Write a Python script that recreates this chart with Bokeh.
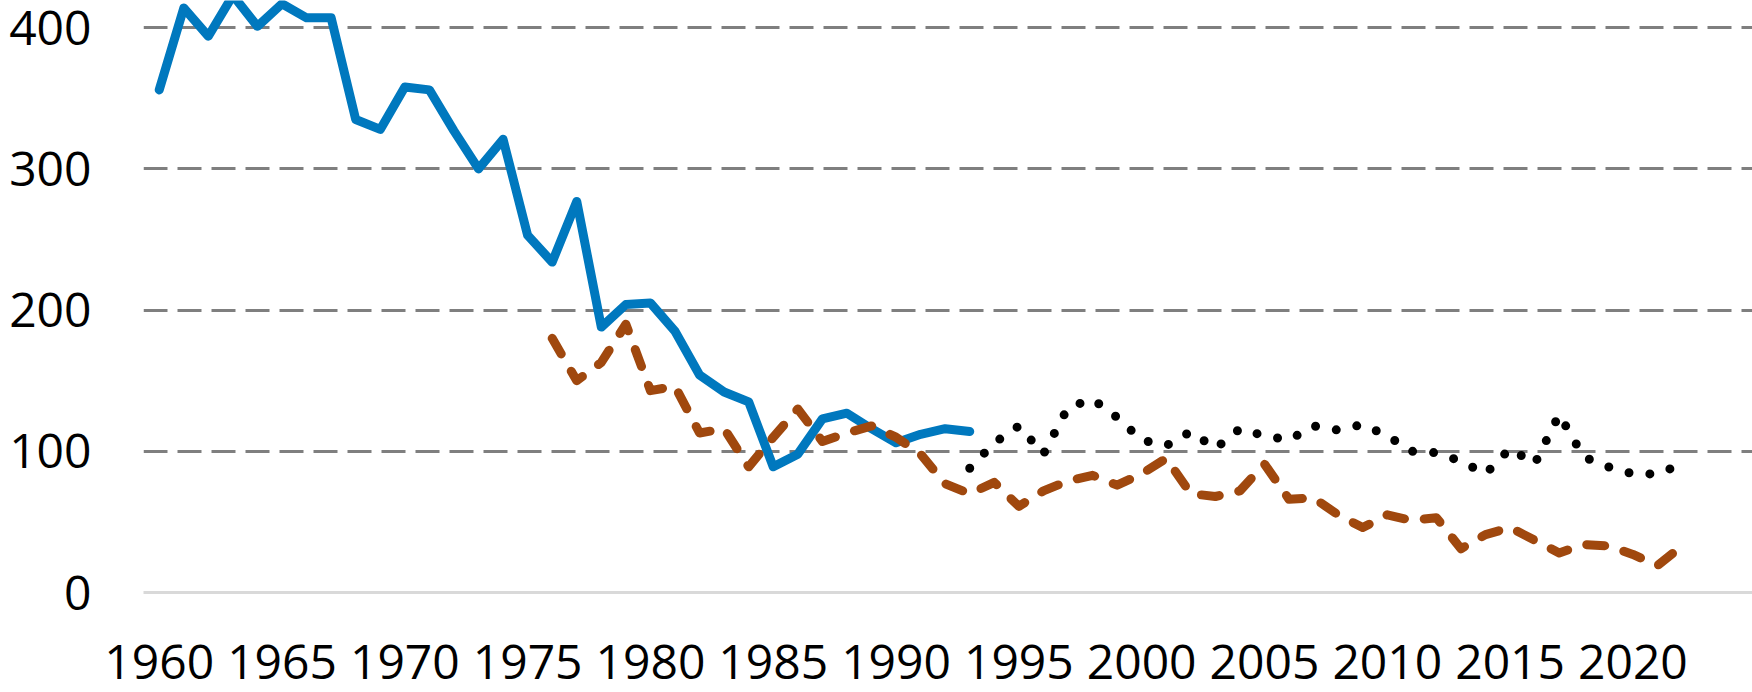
from bokeh.plotting import figure
from bokeh.models import Range1d, FixedTicker
from bokeh.embed import file_html
from bokeh.resources import INLINE

# ---- data ----
blue_years = list(range(1960, 1994))
blue_vals = [356, 414, 394, 423, 401, 417, 407, 407, 335, 328,
             358, 356, 327, 300, 321, 253, 234, 277, 188, 204,
             205, 185, 154, 142, 135, 89, 98, 123, 127, 116,
             106, 112, 116, 114]

brown_years = list(range(1976, 2023))
brown_vals = [180, 150, 163, 190, 143, 146, 113, 116, 89, 110,
              130, 107, 113, 118, 110, 98, 77, 70, 78, 61,
              72, 79, 83, 76, 84, 95, 70, 68, 72, 91,
              66, 67, 55, 46, 55, 51, 53, 31, 41, 46,
              37, 28, 34, 33, 27, 19, 33]

black_years = list(range(1993, 2023))
black_vals = [88, 106, 118, 98, 131, 137, 124, 108, 104, 114,
              102, 116, 111, 108, 118, 115, 119, 111, 100, 99,
              93, 84, 102, 91, 126, 96, 89, 84, 84, 91]

x_ticks = [1960, 1965, 1970, 1975, 1980, 1985, 1990, 1995, 2000, 2005, 2010, 2015, 2020]
y_ticks = [0, 100, 200, 300, 400]
grid_ticks = [100, 200, 300, 400]

FONT = "Open Sans"

p = figure(width=1752, height=692, output_backend="svg", toolbar_location=None,
           x_range=Range1d(1959.36, 2024.87), y_range=Range1d(0, 419.3),
           min_border_left=143, min_border_right=0, min_border_top=0,
           min_border_bottom=100)
p.outline_line_color = None
p.background_fill_color = "white"
p.border_fill_color = "white"

# grid
p.xgrid.grid_line_color = None
p.ygrid.ticker = FixedTicker(ticks=grid_ticks)
p.ygrid.grid_line_color = "#7F7F7F"
p.ygrid.grid_line_width = 3
p.ygrid.grid_line_dash = "24 10"

# y axis
p.yaxis.ticker = FixedTicker(ticks=y_ticks)
p.yaxis.axis_line_color = None
p.yaxis.major_tick_line_color = None
p.yaxis.major_tick_out = 0
p.yaxis.major_tick_in = 0
p.yaxis.minor_tick_line_color = None
p.yaxis.minor_tick_out = 0
p.yaxis.major_label_text_font = FONT
p.yaxis.major_label_text_font_size = "48px"
p.yaxis.major_label_text_color = "black"
p.yaxis.major_label_standoff = 52

# x axis
p.xaxis.ticker = FixedTicker(ticks=x_ticks)
p.xaxis.axis_line_color = "#D9D9D9"
p.xaxis.axis_line_width = 3
p.xaxis.major_tick_line_color = None
p.xaxis.major_tick_out = 0
p.xaxis.major_tick_in = 0
p.xaxis.minor_tick_line_color = None
p.xaxis.minor_tick_out = 0
p.xaxis.major_label_text_font = FONT
p.xaxis.major_label_text_font_size = "48px"
p.xaxis.major_label_text_color = "black"
p.xaxis.major_label_standoff = 52

# series
p.line(blue_years, blue_vals, line_color="#0078BE", line_width=9,
       line_cap="round", line_join="round")
p.line(brown_years, brown_vals, line_color="#A0480E", line_width=9,
       line_cap="round", line_join="round", line_dash="18 20")
p.line(black_years, black_vals, line_color="black", line_width=9,
       line_cap="round", line_join="round", line_dash="0 21")

open("out.html", "w").write(file_html(p, INLINE))
